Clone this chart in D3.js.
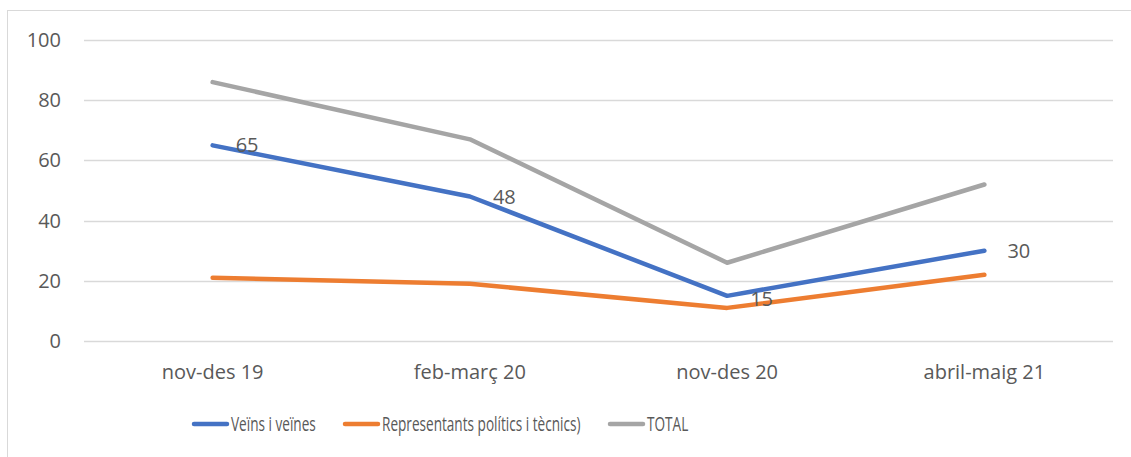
<!DOCTYPE html>
<html>
<head>
<meta charset="utf-8">
<script src="https://cdn.jsdelivr.net/npm/d3@7"></script>
<style>
  body { margin: 0; background: #fff; }
  svg text { font-family: "Open Sans", sans-serif; fill: #595959; }
</style>
</head>
<body>
<div id="chart"></div>
<script>
// Data
const categories = ["nov-des 19", "feb-març 20", "nov-des 20", "abril-maig 21"];
const veins = [65, 48, 15, 30];
const representants = [21, 19, 11, 22];
const total = [86, 67, 26, 52];
const yTicks = [0, 20, 40, 60, 80, 100];
const seriesNames = ["Veïns i veïnes", "Representants polítics i tècnics)", "TOTAL"];

const SERIES = [
    { name: seriesNames[0], values: veins, color: "#4472C4", labels: true },
    { name: seriesNames[1], values: representants, color: "#ED7D31", labels: false },
    { name: seriesNames[2], values: total, color: "#A5A5A5", labels: false }
];

function renderChart() {
    const W = 1131, H = 457;
    const svg = d3.select("#chart").append("svg")
        .attr("width", W).attr("height", H);

    // outer chart frame (cut off at right and bottom)
    svg.append("rect")
        .attr("x", 7.5).attr("y", 10.5)
        .attr("width", W + 20).attr("height", H + 20)
        .attr("fill", "none").attr("stroke", "#D9D9D9");

    const x = d3.scaleBand().domain(categories).range([84, 1113]);
    const y = d3.scaleLinear().domain([0, 100]).range([341, 40]);

    // gridlines
    svg.append("g").selectAll("line").data(yTicks).join("line")
        .attr("x1", 84).attr("x2", 1113)
        .attr("y1", d => Math.round(y(d)) + 0.5).attr("y2", d => Math.round(y(d)) + 0.5)
        .attr("stroke", "#D9D9D9").attr("stroke-width", 1.3);

    // y labels
    svg.append("g").selectAll("text").data(yTicks).join("text")
        .attr("x", 61).attr("y", d => y(d))
        .attr("dy", "0.35em").attr("text-anchor", "end")
        .attr("font-size", 20)
        .text(d => d);

    // x labels
    svg.append("g").selectAll("text").data(categories).join("text")
        .attr("x", d => x(d) + x.bandwidth() / 2).attr("y", 372)
        .attr("dy", "0.35em").attr("text-anchor", "middle")
        .attr("font-size", 20)
        .text(d => d);

    const line = d3.line()
        .x((d, i) => x(categories[i]) + x.bandwidth() / 2)
        .y(d => y(d));

    // draw lines, total first so blue sits on top
    SERIES.slice().reverse().forEach(s => {
        svg.append("path").datum(s.values)
            .attr("d", line)
            .attr("fill", "none")
            .attr("stroke", s.color)
            .attr("stroke-width", 4.5)
            .attr("stroke-linecap", "round")
            .attr("stroke-linejoin", "round");
    });

    // data labels for the first series
    SERIES.filter(s => s.labels).forEach(s => {
        svg.append("g").selectAll("text").data(s.values).join("text")
            .attr("x", (d, i) => x(categories[i]) + x.bandwidth() / 2 + 23)
            .attr("y", (d, i) => y(d) + (i === 2 ? 3 : 0))
            .attr("dy", "0.35em")
            .attr("font-size", 20)
            .text(d => d);
    });

    // legend (text is horizontally squeezed in the reference)
    const legendX = [192, 343, 608];
    const lg = svg.append("g");
    SERIES.forEach((s, i) => {
        lg.append("line")
            .attr("x1", legendX[i] + 2).attr("x2", legendX[i] + 35)
            .attr("y1", 424).attr("y2", 424)
            .attr("stroke", s.color).attr("stroke-width", 4.5)
            .attr("stroke-linecap", "round");
        lg.append("text")
            .attr("transform", `translate(${legendX[i] + 39},424) scale(0.68,1)`)
            .attr("dy", "0.35em")
            .attr("font-size", 20)
            .text(s.name);
    });
}

document.addEventListener("DOMContentLoaded", renderChart);
</script>
</body>
</html>
